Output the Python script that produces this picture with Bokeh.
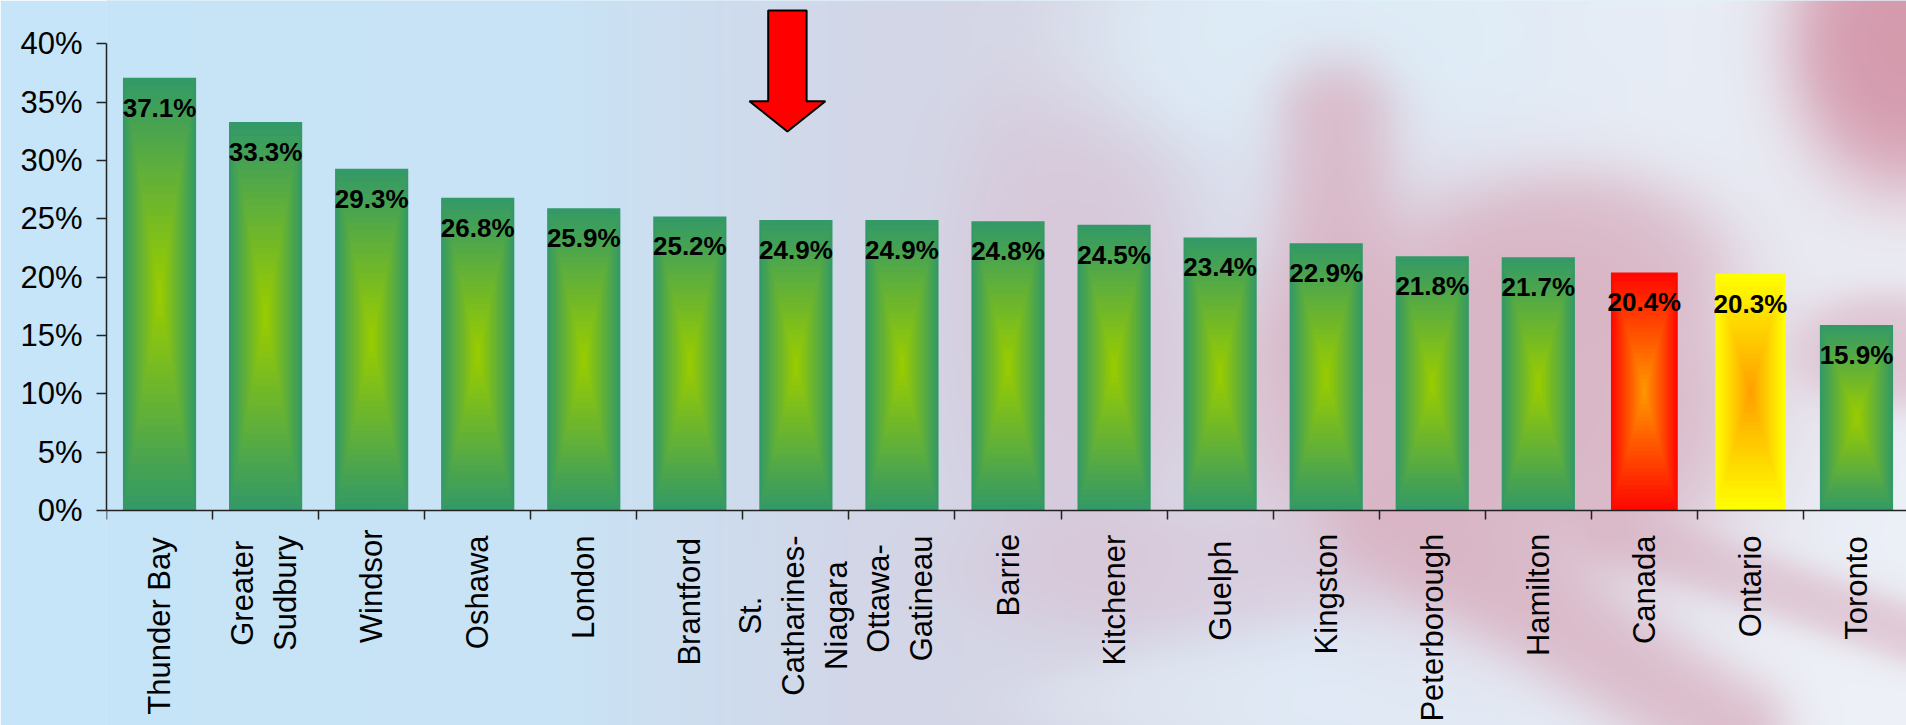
import numpy as np
from bokeh.plotting import figure
from bokeh.models import Range1d, FixedTicker, ColumnDataSource
from bokeh.core.properties import value
from bokeh.embed import file_html
from bokeh.resources import INLINE

# ---------------- data ----------------
categories = ["Thunder Bay", "Greater\nSudbury", "Windsor", "Oshawa", "London", "Brantford",
              "St.\nCatharines-\nNiagara", "Ottawa-\nGatineau", "Barrie", "Kitchener", "Guelph",
              "Kingston", "Peterborough", "Hamilton", "Canada", "Ontario", "Toronto"]
values = [37.1, 33.3, 29.3, 26.8, 25.9, 25.2, 24.9, 24.9, 24.8, 24.5, 23.4, 22.9,
          21.8, 21.7, 20.4, 20.3, 15.9]
value_labels = ["37.1%", "33.3%", "29.3%", "26.8%", "25.9%", "25.2%", "24.9%", "24.9%",
                "24.8%", "24.5%", "23.4%", "22.9%", "21.8%", "21.7%", "20.4%", "20.3%", "15.9%"]
bar_group = ["cma"] * 14 + ["canada", "ontario", "cma"]
y_ticks = [0, 5, 10, 15, 20, 25, 30, 35, 40]
y_tick_labels = ["0%", "5%", "10%", "15%", "20%", "25%", "30%", "35%", "40%"]
highlight_category = "St.\nCatharines-\nNiagara"

# ---------------- layout / styles ----------------
W, H = 1906, 725
LEFT = 106          # frame left edge (px)
CAT_PX = 106.06     # width of one category (px)
ZERO_PX = 510       # screen y of 0 %
UNIT_PX = 11.667    # px per 1 %
LABEL_PX = 31       # category label font size
LABEL_GAP = 25      # px between axis and category labels
LINE_PX = 43        # spacing of the lines of a wrapped category label

palettes = {  # (edge colour, centre colour) of the "from centre" gradient
    "cma": ((51, 153, 102), (153, 204, 0)),
    "canada": ((255, 8, 0), (255, 150, 0)),
    "ontario": ((255, 255, 0), (255, 160, 0)),
}
half_widths = {"cma": 0.345, "canada": 0.315, "ontario": 0.33}
N_LAYERS = 28

# Arial / Liberation Sans advance widths (1/1000 em), used to centre wrapped labels
ADV = {"S": 667, "t": 278, ".": 278, "C": 722, "a": 556, "h": 556, "r": 333, "i": 222,
       "n": 556, "e": 556, "s": 500, "-": 333, "N": 722, "g": 556, "O": 778, "w": 722,
       "G": 778, "u": 556, "b": 556, "d": 556, "y": 500}

def text_px(s):
    return sum(ADV.get(ch, 556) for ch in s) * LABEL_PX / 1000.0

x_end = (W - LEFT) / CAT_PX
y_lo, y_hi = -(H - ZERO_PX) / UNIT_PX, ZERO_PX / UNIT_PX

p = figure(width=W, height=H, x_range=Range1d(0, x_end), y_range=Range1d(y_lo, y_hi),
           output_backend="svg", toolbar_location=None,
           min_border_left=LEFT, min_border_right=0, min_border_top=0, min_border_bottom=0)
p.border_fill_color = "#c6e5f8"
p.background_fill_color = "#c6e5f8"
p.outline_line_color = None
p.xgrid.visible = False
p.ygrid.visible = False

# ---------- background: blurred red/white flag behind a light blue wash ----------
yy, xx = np.mgrid[0:H, 0:W].astype(np.float32)
xs = [0, 560, 850, 1100, 1300, 1600, 1906]
base_r = np.interp(xx, xs, [198, 201, 210, 214, 222, 230, 236])
base_g = np.interp(xx, xs, [229, 227, 215, 213, 232, 236, 240])
base_b = np.interp(xx, xs, [248, 245, 232, 228, 245, 245, 247])
img = np.stack([base_r, base_g, base_b], axis=-1).astype(np.float32)

def soft(d, edge, width):
    return 1.0 / (1.0 + np.exp((d - edge) / width))

def ellipse(cx, cy, rx, ry, edge=0.75, width=0.14):
    d = np.sqrt(((xx - cx) / rx) ** 2 + ((yy - cy) / ry) ** 2)
    return soft(d, edge, width)

def stroke(x0, y0, x1, y1, hw):
    vx, vy = x1 - x0, y1 - y0
    t = np.clip(((xx - x0) * vx + (yy - y0) * vy) / (vx * vx + vy * vy), 0, 1)
    d = np.hypot(xx - (x0 + t * vx), yy - (y0 + t * vy)) / hw
    return soft(d, 1.0, 0.3)

pink = (217, 180, 196)
lav = (216, 196, 214)
red = (210, 145, 165)
white = (222, 238, 248)
shapes = [
    (ellipse(1070, 300, 150, 330), lav, 0.7),
    (ellipse(1290, 40, 300, 140), white, 0.85),
    (ellipse(1490, 400, 320, 240, 0.8, 0.12), pink, 0.95),
    (stroke(1335, 120, 1335, 330, 55), pink, 0.85),
    (ellipse(1580, 260, 180, 110), pink, 0.75),
    (ellipse(1180, 570, 270, 75), lav, 0.6),
    (ellipse(1906, 40, 150, 190), red, 0.9),
    (ellipse(1885, 350, 120, 75), pink, 0.7),
    (ellipse(1830, 690, 210, 90), (238, 242, 248), 0.75),
    (ellipse(1200, 700, 220, 60), (226, 236, 246), 0.6),
    (stroke(1390, 520, 1730, 730, 50), pink, 0.85),
    (stroke(1610, 530, 1906, 632, 28), pink, 0.65),
]
for m, col, a in shapes:
    k = (m * a)[..., None]
    img = img * (1 - k) + np.array(col, dtype=np.float32) * k

rgba = np.empty((H, W), dtype=np.uint32)
view = rgba.view(dtype=np.uint8).reshape((H, W, 4))
view[..., :3] = np.clip(img, 0, 255).astype(np.uint8)
view[..., 3] = 255
p.image_rgba(image=[rgba[::-1]], x=-LEFT / CAT_PX, y=y_lo, dw=W / CAT_PX, dh=y_hi - y_lo)

# ---------- gradient bars built as nested rectangles ----------
cols = {"left": [], "right": [], "bottom": [], "top": [], "color": []}
for i, (v, g) in enumerate(zip(values, bar_group)):
    c = i + 0.5
    hw = half_widths[g]
    e, mcol = palettes[g]
    for k in range(N_LAYERS):
        f = k / N_LAYERS
        t = k / (N_LAYERS - 1)
        rgb = tuple(int(round(e[j] + (mcol[j] - e[j]) * t)) for j in range(3))
        cols["left"].append(c - hw * (1 - f))
        cols["right"].append(c + hw * (1 - f))
        cols["bottom"].append(v * f / 2)
        cols["top"].append(v - v * f / 2)
        cols["color"].append("#%02x%02x%02x" % rgb)

p.quad(left="left", right="right", bottom="bottom", top="top", source=ColumnDataSource(cols),
       fill_color="color", line_color=None)

# value labels
p.text(x=[i + 0.5 for i in range(len(values))], y=values, text=value_labels,
       text_font=value("Liberation Sans"), text_font_style="bold", text_font_size="26px",
       text_align="center", text_baseline="top", y_offset=15, text_color="black")

# category names: vertical, reading upwards; wrapped names have centred lines
lab_x, lab_y, lab_t = [], [], []
for i, name in enumerate(categories):
    lines = name.split("\n")
    n = len(lines)
    longest = max(text_px(s) for s in lines)
    yc = -(LABEL_GAP + longest / 2) / UNIT_PX
    for j, s in enumerate(lines):
        off = (j - (n - 1) / 2) * LINE_PX - (2 if n > 1 else 0)
        lab_x.append(i + 0.5 + off / CAT_PX)
        lab_y.append(yc)
        lab_t.append(s)
p.text(x=lab_x, y=lab_y, text=lab_t, angle=np.pi / 2, anchor="center", text_align="center",
       text_baseline="middle", text_font=value("Liberation Sans"),
       text_font_size="%dpx" % LABEL_PX, text_color="black")

# red arrow above the highlighted category
ai = categories.index(highlight_category) + 0.42
sw, hw_, y_top, y_neck, y_tip = 0.181, 0.358, 42.86, 35.08, 32.49
p.patch(x=[ai - sw, ai + sw, ai + sw, ai + hw_, ai, ai - hw_, ai - sw],
        y=[y_top, y_top, y_neck, y_neck, y_tip, y_neck, y_neck],
        fill_color="#ff0000", line_color="black", line_width=2)

# ---------- axes ----------
ax_col = "#222222"
p.yaxis.ticker = FixedTicker(ticks=y_ticks, minor_ticks=[])
p.yaxis.major_label_overrides = {t: l for t, l in zip(y_ticks, y_tick_labels)}
p.yaxis.bounds = (0, 40)
p.yaxis.major_tick_out = 10
p.yaxis.major_tick_in = 0
p.yaxis.major_label_standoff = 14
p.yaxis.major_label_text_font = "Liberation Sans"
p.yaxis.major_label_text_font_size = "31px"
p.yaxis.major_label_text_color = "black"
p.yaxis.axis_line_color = ax_col
p.yaxis.axis_line_width = 1.5
p.yaxis.major_tick_line_color = ax_col
p.yaxis.major_tick_line_width = 1.5

boundaries = list(range(len(categories) + 1))
p.xaxis.fixed_location = 0
p.xaxis.ticker = FixedTicker(ticks=boundaries, minor_ticks=[])
p.xaxis.major_label_overrides = {b: "" for b in boundaries}
p.xaxis.major_tick_out = 9
p.xaxis.major_tick_in = 0
p.xaxis.major_tick_line_color = ax_col
p.xaxis.major_tick_line_width = 1.5
p.xaxis.axis_line_color = ax_col
p.xaxis.axis_line_width = 1.5

open("out.html", "w").write(file_html(p, INLINE))
